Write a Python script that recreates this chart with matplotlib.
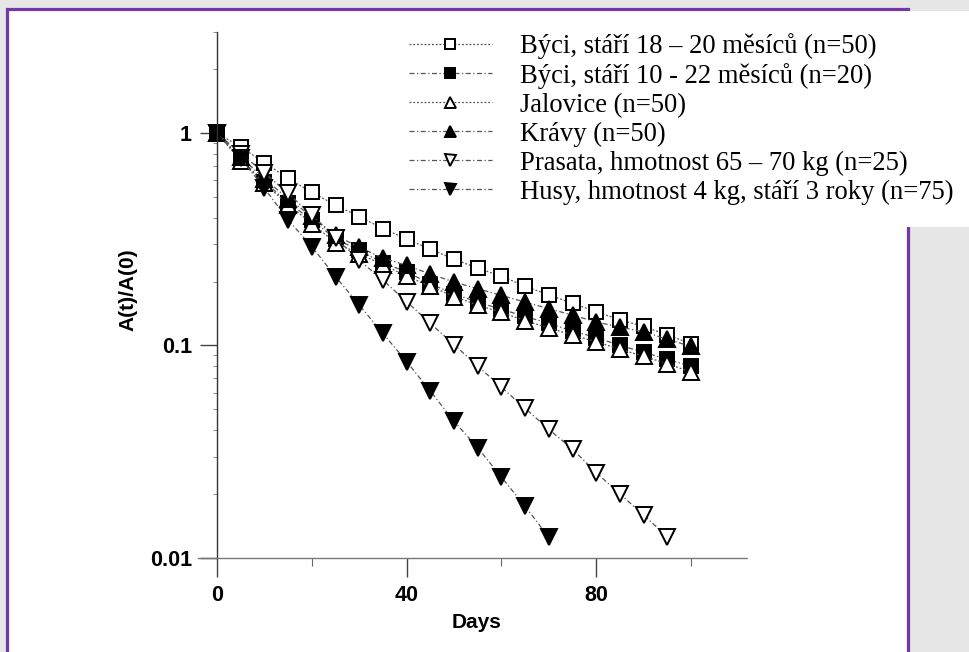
import matplotlib
matplotlib.use("Agg")
import matplotlib.pyplot as plt
from matplotlib.patches import Rectangle
from matplotlib.ticker import FixedLocator, LogLocator, NullFormatter

W, H = 969, 652

# ---- data (A(t)/A(0) vs days) ----
days = [0, 5, 10, 15, 20, 25, 30, 35, 40, 45, 50, 55, 60, 65, 70, 75, 80, 85, 90, 95, 100]

byci_18_20 = [1.0, 0.86, 0.725, 0.612, 0.526, 0.458, 0.404, 0.355, 0.317, 0.284, 0.255,
              0.231, 0.212, 0.19, 0.173, 0.158, 0.144, 0.132, 0.123, 0.112, 0.102]
byci_10_22 = [1.0, 0.75, 0.59, 0.47, 0.39, 0.318, 0.28, 0.245, 0.222, 0.195, 0.175,
              0.16, 0.148, 0.137, 0.127, 0.117, 0.109, 0.100, 0.093, 0.086, 0.080]
jalovice = [1.0, 0.74, 0.58, 0.46, 0.375, 0.305, 0.27, 0.24, 0.212, 0.19, 0.17,
            0.155, 0.143, 0.131, 0.121, 0.112, 0.104, 0.096, 0.089, 0.082, 0.075]
kravy = [1.0, 0.77, 0.61, 0.49, 0.405, 0.33, 0.29, 0.258, 0.238, 0.217, 0.199,
         0.185, 0.172, 0.160, 0.149, 0.139, 0.129, 0.122, 0.116, 0.107, 0.099]

days_prasata = [0, 5, 10, 15, 20, 25, 30, 35, 40, 45, 50, 55, 60, 65, 70, 75, 80, 85, 90, 95]
prasata = [1.0, 0.80, 0.65, 0.52, 0.41, 0.32, 0.252, 0.203, 0.161, 0.127, 0.101,
           0.080, 0.0636, 0.0506, 0.0403, 0.0325, 0.0252, 0.020, 0.0159, 0.0126]

days_husy = [0, 5, 10, 15, 20, 25, 30, 35, 40, 45, 50, 55, 60, 65, 70]
husy = [1.0, 0.76, 0.55, 0.39, 0.292, 0.211, 0.155, 0.114, 0.084, 0.061, 0.044,
        0.033, 0.024, 0.0175, 0.0125]

labels = [
    "Býci, stáří 18 – 20 měsíců (n=50)",
    "Býci, stáří 10 - 22 měsíců (n=20)",
    "Jalovice (n=50)",
    "Krávy (n=50)",
    "Prasata, hmotnost 65 – 70 kg (n=25)",
    "Husy, hmotnost 4 kg, stáří 3 roky (n=75)",
]
x_ticks = [0, 40, 80]
y_ticks = [0.01, 0.1, 1]
y_ticklabels = ["0.01", "0.1", "1"]

PURPLE = "#7338a8"
GRAY_BG = "#e6e6e6"


def fx(px):
    return px / W


def fy(py):
    return 1 - py / H


fig = plt.figure(figsize=(W / 100, H / 100), dpi=100)
fig.patch.set_facecolor(GRAY_BG)

# white page panel with purple frame, plus the white strip behind the legend
fig.add_artist(Rectangle((fx(7), fy(700)), fx(908) - fx(7), fy(9) - fy(700),
                         transform=fig.transFigure, facecolor="white",
                         edgecolor=PURPLE, lw=2.3, zorder=0))
fig.add_artist(Rectangle((fx(902), fy(227)), fx(969) - fx(902), fy(11) - fy(227),
                         transform=fig.transFigure, facecolor="white",
                         edgecolor="none", zorder=0.5))

ax = fig.add_axes([fx(198), fy(558), fx(748) - fx(198), fy(31.6) - fy(558)])
ax.set_facecolor("none")
ax.set_yscale("log")
ax.set_xlim(-4, 112)
ax.set_ylim(0.01, 3)

line_kw = dict(color="#555555", lw=0.9)
ms_sq, ms_tri = 10.5, 11
series = [
    (days, byci_18_20, dict(marker="s", mfc="white", mec="black", ms=ms_sq, ls=(0, (1.5, 1.5)))),
    (days, byci_10_22, dict(marker="s", mfc="black", mec="black", ms=ms_sq, ls=(0, (4, 2, 1, 2)))),
    (days, jalovice, dict(marker="^", mfc="white", mec="black", ms=ms_tri, ls=(0, (1.5, 1.5)))),
    (days, kravy, dict(marker="^", mfc="black", mec="black", ms=ms_tri, ls=(0, (4, 2, 1, 2)))),
    (days_prasata, prasata, dict(marker="v", mfc="white", mec="black", ms=ms_tri, ls=(0, (4, 2, 1, 2)))),
    (days_husy, husy, dict(marker="v", mfc="black", mec="black", ms=ms_tri, ls=(0, (4, 2, 1, 2)))),
]
for (xs, ys, kw), lab in zip(series, labels):
    ax.plot(xs, ys, label=lab, mew=1.4, **line_kw, **kw)

# axes styling: y axis at x=0, dotted x axis at y=0.01
for s in ("top", "right"):
    ax.spines[s].set_visible(False)
ax.spines["left"].set_position(("data", 0))
ax.spines["left"].set_color("#333333")
ax.spines["left"].set_linewidth(1.0)
ax.spines["bottom"].set_color("#777777")
ax.spines["bottom"].set_linestyle((0, (2, 1)))
ax.spines["bottom"].set_linewidth(1.0)

tick_font = dict(family=["Liberation Sans", "DejaVu Sans"], weight="bold", size=15.5)
ax.xaxis.set_major_locator(FixedLocator(x_ticks))
ax.xaxis.set_minor_locator(FixedLocator([20, 60, 100]))
ax.set_xticklabels([str(t) for t in x_ticks], **tick_font)
ax.tick_params(axis="x", which="major", direction="out", length=13.5, width=1.0,
               color="#444444", pad=6)
ax.tick_params(axis="x", which="minor", direction="out", length=6, width=0.8,
               color="#666666")

ax.yaxis.set_major_locator(FixedLocator(y_ticks))
ax.yaxis.set_minor_locator(LogLocator(base=10, subs=range(2, 10)))
ax.yaxis.set_minor_formatter(NullFormatter())
ax.set_yticklabels(y_ticklabels, **tick_font)
ax.tick_params(axis="y", which="major", direction="out", length=12, width=1.0,
               color="#444444", pad=6)
ax.tick_params(axis="y", which="minor", direction="out", length=3, width=0.7,
               color="#888888")

fig.text(fx(477), fy(622), "Days", ha="center", va="center",
         family=["Liberation Sans", "DejaVu Sans"], weight="bold", size=15)
fig.text(fx(128), fy(290), "A(t)/A(0)", ha="center", va="center", rotation=90,
         family=["Liberation Sans", "DejaVu Sans"], weight="bold", size=15)

leg = fig.legend(loc="upper left", bbox_to_anchor=(fx(409), fy(33)),
                 frameon=False, borderpad=0, borderaxespad=0,
                 prop=dict(family=["Liberation Serif", "DejaVu Serif"], size=19.2),
                 handlelength=3.1, handletextpad=1.07, labelspacing=0.146,
                 numpoints=1, markerscale=0.72)

fig.savefig("out.png", dpi=100, facecolor=fig.get_facecolor())
